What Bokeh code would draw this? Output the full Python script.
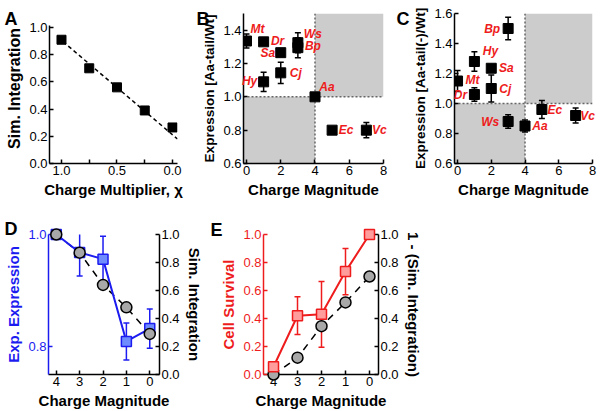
from bokeh.plotting import figure
from bokeh.layouts import column, row
from bokeh.models import (Range1d, LinearAxis, Whisker, TeeHead, ColumnDataSource,
                          Span, BoxAnnotation, FixedTicker, PrintfTickFormatter)
from bokeh.core.properties import value
from bokeh.embed import file_html
from bokeh.resources import INLINE

# ---------------- data ----------------
# Panel A
a_chi = [1.0, 0.75, 0.5, 0.25, 0.0]
a_sim = [0.91, 0.70, 0.56, 0.39, 0.265]
a_fit_x = [1.035, -0.045]
a_fit_y = [0.93, 0.18]

# Panel B
b_names = ["Mt", "Dr", "Sa", "Ws", "Bp", "Hy", "Cj", "Aa", "Ec", "Vc"]
b_charge = [0, 1, 2, 3, 3, 1, 2, 4, 5, 7]
b_expr = [1.335, 1.33, 1.265, 1.325, 1.295, 1.09, 1.144, 1.0, 0.80, 0.80]
b_err = [0.042, 0.01, 0.01, 0.06, 0.06, 0.058, 0.064, 0.0, 0.02, 0.046]
b_thresh_charge = 4
b_thresh_expr = 1.0

# Panel C
c_names = ["Mt", "Dr", "Hy", "Cj", "Sa", "Bp", "Ws", "Aa", "Ec", "Vc"]
c_charge = [0, 1, 1, 2, 2, 3, 3, 4, 5, 7]
c_expr = [1.15, 1.06, 1.28, 1.10, 1.235, 1.50, 0.88, 0.85, 0.96, 0.92]
c_err = [0.07, 0.045, 0.065, 0.09, 0.02, 0.075, 0.045, 0.04, 0.06, 0.05]
c_thresh_charge = 4
c_thresh_expr = 1.0

# Panel D
d_charge = [4, 3, 2, 1, 0]
d_expr = [1.0, 0.968, 0.956, 0.809, 0.832]
d_expr_err = [0.0, 0.042, 0.041, 0.033, 0.035]
d_sim = [1.0, 0.87, 0.64, 0.48, 0.29]

# Panel E
e_charge = [4, 3, 2, 1, 0]
e_surv = [0.055, 0.42, 0.43, 0.735, 1.0]
e_surv_err = [0.0, 0.135, 0.235, 0.165, 0.0]
e_sim = [0.0, 0.12, 0.345, 0.515, 0.70]

# ---------------- label placement (pixels, right / down) ----------------
b_dx = [11, 14, -13, 15, 15, -14, 15, 12, 14, 13]
b_dy = [-12, -1, 0, -9, -2, -1, 0, -10, 0, 0]
c_dx = [15, -14, 16, 14, 15, -16, -18, 15, 13, 12]
c_dy = [-1, 0, -11, 0, 0, 0, 0, 0, 0, 0]

FONT = "Liberation Sans"
RED = "#ee1c1c"
RED_FILL = "#ff9c9c"
BLUE = "#1c1cf0"
BLUE_FILL = "#6f8cff"
GRAY_FILL = "#a8a8a8"


def style_axis(ax, color="black", label_size="15px"):
    ax.axis_line_color = color
    ax.axis_line_width = 1.5
    ax.major_tick_line_color = color
    ax.major_tick_line_width = 1.5
    ax.major_tick_in = 4
    ax.major_tick_out = 0
    ax.minor_tick_line_color = None
    ax.major_label_text_font = FONT
    ax.major_label_text_font_size = "13px"
    ax.major_label_text_color = color
    ax.major_label_standoff = 2
    ax.axis_label_text_font = FONT
    ax.axis_label_text_font_size = label_size
    ax.axis_label_text_font_style = "bold"
    ax.axis_label_text_color = color
    ax.axis_label_standoff = 3


def make_fig(w, h, bl, br, bt, bb, xr, yr):
    p = figure(width=w, height=h, x_range=xr, y_range=yr,
               output_backend="svg", toolbar_location=None,
               min_border_left=bl, min_border_right=br,
               min_border_top=bt, min_border_bottom=bb)
    try:
        p.frame_align = False
    except Exception:
        pass
    p.outline_line_color = None
    p.xgrid.visible = False
    p.ygrid.visible = False
    return p


def letter(p, txt, dx, dy):
    # anchored at the frame's top-left corner, shifted in pixels (right / down)
    p.text(x=[p.x_range.start], y=[p.y_range.end], text=[txt], x_offset=dx, y_offset=dy,
           text_font=value(FONT), text_font_size="18px", text_font_style="bold",
           text_baseline="alphabetic", text_align="left", text_color="black",
           level="overlay")


# ---------------- Panel A ----------------
pA = make_fig(195, 200, 49, 18, 13, 37, Range1d(1.108, -0.045), Range1d(0, 1.103))
pA.line(a_fit_x, a_fit_y, line_dash="4 3", line_width=1.5, color="black")
pA.scatter(a_chi, a_sim, marker="square", size=9, color="black")
pA.xaxis.ticker = FixedTicker(ticks=[0, 0.5, 1.0], minor_ticks=[0.25, 0.75])
pA.yaxis.ticker = FixedTicker(ticks=[0, 0.2, 0.4, 0.6, 0.8, 1.0])
pA.xaxis.formatter = PrintfTickFormatter(format="%.1f")
pA.yaxis.formatter = PrintfTickFormatter(format="%.1f")
pA.yaxis.bounds = (0, 1.015)
pA.xaxis.axis_label = "Charge Multiplier, χ"
pA.yaxis.axis_label = "Sim. Integration"
style_axis(pA.xaxis[0])
style_axis(pA.yaxis[0], label_size="16px")
pA.xaxis.minor_tick_line_color = "black"
pA.xaxis.minor_tick_line_width = 1.5
pA.xaxis.minor_tick_in = 4
pA.xaxis.minor_tick_out = 0
letter(pA, "A", -45, 5)


def expr_panel(w, bl, br, bt, bb, xr, yr, names, charge, expr, err, dx, dy,
               tc, te, ylabel, yticks):
    p = make_fig(w, 200, bl, br, bt, bb, xr, yr)
    p.add_layout(BoxAnnotation(right=tc, top=te, fill_color="#cccccc", fill_alpha=1,
                               line_color=None, level="image"))
    p.add_layout(BoxAnnotation(left=tc, bottom=te, fill_color="#cccccc", fill_alpha=1,
                               line_color=None, level="image"))
    p.add_layout(Span(location=tc, dimension="height", line_color="#666666",
                      line_width=1.5, line_dash="2 2", level="underlay"))
    p.add_layout(Span(location=te, dimension="width", line_color="#666666",
                      line_width=1.5, line_dash="2 2", level="underlay"))
    src = ColumnDataSource(dict(x=charge, y=expr, name=names,
                                lo=[v - e for v, e in zip(expr, err)],
                                hi=[v + e for v, e in zip(expr, err)],
                                dx=dx, dy=dy))
    p.add_layout(Whisker(source=src, base="x", lower="lo", upper="hi",
                         line_color="black", line_width=1.5,
                         lower_head=TeeHead(size=6, line_color="black", line_width=1.5),
                         upper_head=TeeHead(size=6, line_color="black", line_width=1.5)))
    p.scatter("x", "y", source=src, marker="square", size=10, color="black")
    p.text(x="x", y="y", text="name", x_offset="dx", y_offset="dy", source=src,
           text_font=value(FONT), text_font_size="12px",
           text_font_style="bold italic", text_color=RED,
           text_align="center", text_baseline="middle", level="overlay")
    p.xaxis.ticker = FixedTicker(ticks=[0, 2, 4, 6, 8])
    p.yaxis.ticker = FixedTicker(ticks=yticks)
    p.yaxis.formatter = PrintfTickFormatter(format="%.1f")
    p.xaxis.axis_label = "Charge Magnitude"
    p.yaxis.axis_label = ylabel
    style_axis(p.xaxis[0])
    style_axis(p.yaxis[0], label_size="13.5px")
    return p


pB = expr_panel(200, 48, 12, 13, 37, Range1d(-0.175, 8), Range1d(0.6, 1.5),
                b_names, b_charge, b_expr, b_err, b_dx, b_dy,
                b_thresh_charge, b_thresh_expr, "Expression [Aa-tail/Wt]",
                [0.6, 0.8, 1.0, 1.2, 1.4])
letter(pB, "B", -47, 5)

pC = expr_panel(205, 59, 8, 13, 37, Range1d(-0.18, 8), Range1d(0.6, 1.6),
                c_names, c_charge, c_expr, c_err, c_dx, c_dy,
                c_thresh_charge, c_thresh_expr, "Expression [Aa-tail(-)/Wt]",
                [0.6, 0.8, 1.0, 1.2, 1.4, 1.6])
letter(pC, "C", -58, 5)

# ---------------- Panel D ----------------
pD = make_fig(205, 211, 48, 43, 34, 37, Range1d(4.333, -0.417), Range1d(0.75, 1.0))
pD.extra_y_ranges = {"sim": Range1d(0, 1.0)}
axD = LinearAxis(y_range_name="sim", axis_label="Sim. Integration",
                 ticker=FixedTicker(ticks=[0, 0.2, 0.4, 0.6, 0.8, 1.0]),
                 formatter=PrintfTickFormatter(format="%.1f"))
pD.add_layout(axD, "right")
pD.line(d_charge, d_sim, y_range_name="sim", line_dash="7 6", color="black", line_width=1.5)
srcD = ColumnDataSource(dict(x=d_charge, y=d_expr,
                             lo=[v - e for v, e in zip(d_expr, d_expr_err)],
                             hi=[v + e for v, e in zip(d_expr, d_expr_err)]))
pD.line("x", "y", source=srcD, color=BLUE, line_width=2)
pD.add_layout(Whisker(source=srcD, base="x", lower="lo", upper="hi",
                      line_color=BLUE, line_width=1.5,
                      lower_head=TeeHead(size=6, line_color=BLUE, line_width=1.5),
                      upper_head=TeeHead(size=6, line_color=BLUE, line_width=1.5)))
pD.scatter("x", "y", source=srcD, marker="square", size=10, fill_color=BLUE_FILL,
           line_color=BLUE, line_width=1.5, level="overlay")
pD.scatter(d_charge, d_sim, y_range_name="sim", marker="circle", size=11,
           fill_color=GRAY_FILL, line_color="black", line_width=1.5, level="overlay")
pD.xaxis.ticker = FixedTicker(ticks=[0, 1, 2, 3, 4])
pD.yaxis[0].ticker = FixedTicker(ticks=[0.8, 1.0])
pD.yaxis[0].formatter = PrintfTickFormatter(format="%.1f")
pD.xaxis.axis_label = "Charge Magnitude"
pD.yaxis[0].axis_label = "Exp. Expression"
style_axis(pD.xaxis[0])
style_axis(pD.yaxis[0], color=BLUE)
style_axis(axD)
letter(pD, "D", -44, -6)

# ---------------- Panel E ----------------
pE = make_fig(225, 211, 58, 52, 34, 37, Range1d(4.417, -0.375), Range1d(0, 1.0))
pE.extra_y_ranges = {"sim": Range1d(0, 1.0)}
axE = LinearAxis(y_range_name="sim", axis_label="1 - (Sim. Integration)",
                 ticker=FixedTicker(ticks=[0, 0.2, 0.4, 0.6, 0.8, 1.0]),
                 formatter=PrintfTickFormatter(format="%.1f"))
pE.add_layout(axE, "right")
pE.line(e_charge, e_sim, y_range_name="sim", line_dash="7 6", color="black", line_width=1.5)
pE.scatter(e_charge, e_sim, y_range_name="sim", marker="circle", size=11,
           fill_color=GRAY_FILL, line_color="black", line_width=1.5, level="overlay")
srcE = ColumnDataSource(dict(x=e_charge, y=e_surv,
                             lo=[v - e for v, e in zip(e_surv, e_surv_err)],
                             hi=[v + e for v, e in zip(e_surv, e_surv_err)]))
pE.line("x", "y", source=srcE, color=RED, line_width=2)
pE.add_layout(Whisker(source=srcE, base="x", lower="lo", upper="hi",
                      line_color=RED, line_width=1.5,
                      lower_head=TeeHead(size=6, line_color=RED, line_width=1.5),
                      upper_head=TeeHead(size=6, line_color=RED, line_width=1.5)))
pE.scatter("x", "y", source=srcE, marker="square", size=10, fill_color=RED_FILL,
           line_color=RED, line_width=1.5, level="overlay")
pE.xaxis.ticker = FixedTicker(ticks=[0, 1, 2, 3, 4])
pE.yaxis[0].ticker = FixedTicker(ticks=[0, 0.2, 0.4, 0.6, 0.8, 1.0])
pE.yaxis[0].formatter = PrintfTickFormatter(format="%.1f")
pE.xaxis.axis_label = "Charge Magnitude"
pE.yaxis[0].axis_label = "Cell Survival"
style_axis(pE.xaxis[0])
style_axis(pE.yaxis[0], color=RED)
style_axis(axE)
letter(pE, "E", -53, -5)

layout = column(row(pA, pB, pC), row(pD, pE))
open("out.html", "w").write(file_html(layout, INLINE))
